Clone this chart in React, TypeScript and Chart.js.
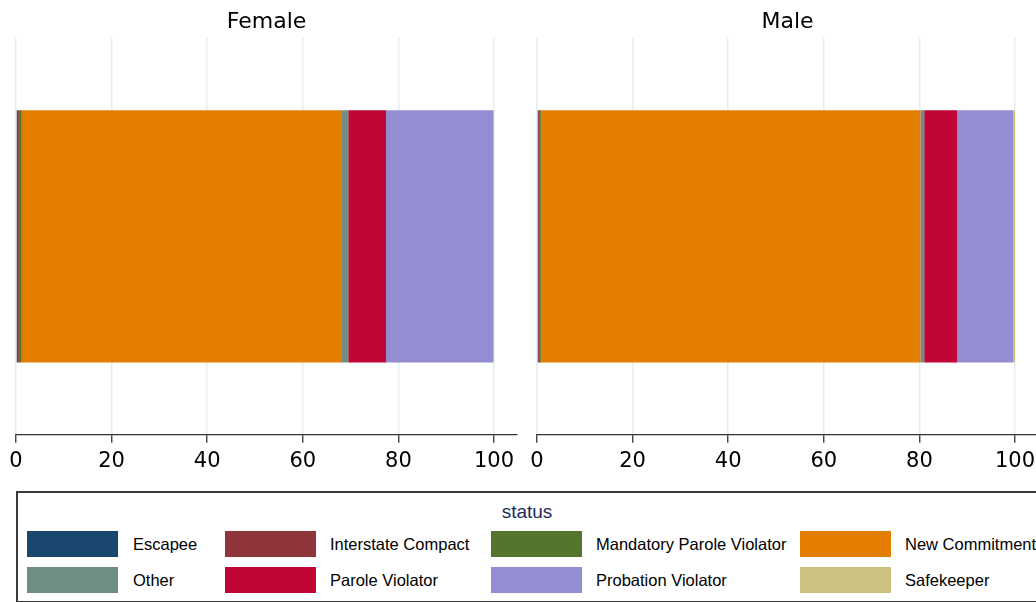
import React, { useEffect, useRef } from "react";
import { Chart, registerables } from "chart.js";

Chart.register(...registerables);

// ---- data ----
const statuses = [
  "Escapee",
  "Interstate Compact",
  "Mandatory Parole Violator",
  "New Commitment",
  "Other",
  "Parole Violator",
  "Probation Violator",
  "Safekeeper",
];
const statusColors = [
  "#1a476f",
  "#90353b",
  "#55752f",
  "#e37e00",
  "#6e8e84",
  "#c10534",
  "#938dd2",
  "#cac27e",
];
const femaleShares = [0.2, 0.4, 0.6, 67.0, 1.3, 7.9, 22.4, 0.2];
const maleShares = [0.2, 0.2, 0.4, 79.4, 0.8, 6.9, 11.7, 0.4];
const panelTitles = ["Female", "Male"];
const xTickValues = [0, 20, 40, 60, 80, 100];
const xAxisMax = 104.8;
const legendTitle = "status";

const CHART_FONT = "'DejaVu Sans', sans-serif";
const LEGEND_FONT = "'Liberation Sans', Arial, sans-serif";

type PanelProps = { title: string; values: number[]; left: number };

function Panel({ title, values, left }: PanelProps) {
  const ref = useRef<HTMLCanvasElement | null>(null);
  useEffect(() => {
    if (!ref.current) return;
    const chart = new Chart(ref.current, {
      type: "bar",
      data: {
        labels: [title],
        datasets: statuses.map((s, i) => ({
          label: s,
          data: [values[i]],
          backgroundColor: statusColors[i],
          borderWidth: 0,
          barPercentage: 0.636,
          categoryPercentage: 1,
        })),
      },
      options: {
        indexAxis: "y",
        animation: false,
        responsive: false,
        devicePixelRatio: 1,
        layout: { padding: { left: 16, right: 10, top: 0, bottom: 0 } },
        plugins: {
          legend: { display: false },
          tooltip: { enabled: false },
          title: {
            display: true,
            text: title,
            fullSize: false,
            color: "#000",
            font: { family: CHART_FONT, size: 22, weight: "normal" },
            padding: { top: 9, bottom: 2.6 },
          },
        },
        scales: {
          x: {
            stacked: true,
            min: 0,
            max: xAxisMax,
            afterBuildTicks: (sc: any) => {
              sc.ticks = xTickValues.map((v) => ({ value: v }));
            },
            grid: {
              color: "#e4eef0",
              lineWidth: 1.5,
              tickColor: "#333",
              tickLength: 8,
              tickWidth: 1.3,
            },
            border: { color: "#333", width: 1.3 },
            ticks: {
              color: "#000",
              font: { family: CHART_FONT, size: 21 },
              padding: 6,
              maxRotation: 0,
              autoSkip: false,
            },
          },
          y: { stacked: true, display: false },
        },
      },
    } as any);
    return () => chart.destroy();
  }, [title, values]);
  return (
    <canvas
      ref={ref}
      width={527}
      height={480}
      style={{ position: "absolute", left, top: 0, width: 527, height: 480 }}
    />
  );
}

// layout of the legend (pixel positions of the 4 columns)
const legendSwatchLefts = [9, 207, 473, 782];
const legendTextLefts = [115, 312, 578, 887];

export default function App() {
  return (
    <div
      style={{
        position: "fixed",
        left: 0,
        top: 0,
        width: 1036,
        height: 602,
        overflow: "hidden",
        background: "#fff",
      }}
    >
      <Panel title={panelTitles[0]} values={femaleShares} left={0} />
      <Panel title={panelTitles[1]} values={maleShares} left={521} />
      <div
        style={{
          position: "absolute",
          left: 16,
          top: 491,
          width: 1022,
          height: 112,
          boxSizing: "border-box",
          border: "2px solid #3a3a3a",
          fontFamily: LEGEND_FONT,
        }}
      >
        <div
          style={{
            position: "absolute",
            left: 0,
            right: 0,
            top: 8,
            textAlign: "center",
            color: "#1c2b5e",
            fontSize: 19,
            lineHeight: "22px",
          }}
        >
          {legendTitle}
        </div>
        {statuses.map((s, i) => {
          const col = i % 4;
          const row = Math.floor(i / 4);
          const top = 38 + row * 36;
          return (
            <React.Fragment key={s}>
              <div
                style={{
                  position: "absolute",
                  left: legendSwatchLefts[col],
                  top,
                  width: 91,
                  height: 26,
                  background: statusColors[i],
                }}
              />
              <div
                style={{
                  position: "absolute",
                  left: legendTextLefts[col],
                  top,
                  height: 26,
                  lineHeight: "26px",
                  fontSize: 16.5,
                  color: "#000",
                  whiteSpace: "nowrap",
                }}
              >
                {s}
              </div>
            </React.Fragment>
          );
        })}
      </div>
    </div>
  );
}
